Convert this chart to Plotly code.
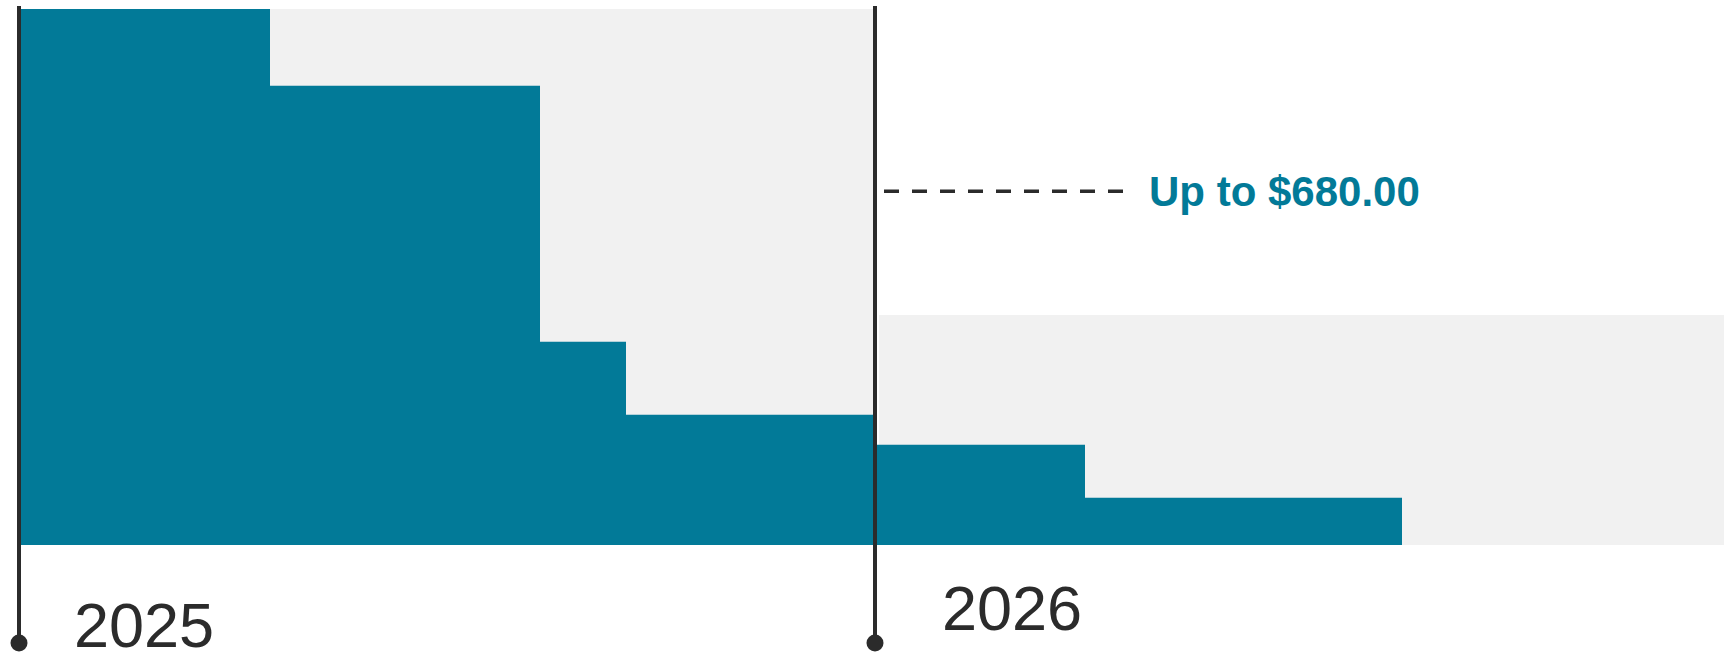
import plotly.graph_objects as go

# ---------------- data ----------------
years = ["2025", "2026"]
year_start = [0, 858]          # x units (timeline position)
year_end = [852, 1703]
year_cap = [100, 42.9]         # height of the light background block

seg_start = [0, 249, 519, 605, 856, 1064]
seg_end = [249, 519, 605, 852, 1064, 1381]
seg_value = [100, 85.7, 37.9, 24.3, 18.7, 8.8]

callout_value = 66.0
callout_label = "Up to $680.00"

# ---------------- style / layout constants ----------------
TEAL = "#027a98"
GRAY = "#f1f1f1"
INK = "#2b2b2b"
W, H = 1724, 654
PX_PER_UNIT = 536 / 100.0      # vertical scale
BASE_PX = 545                  # baseline pixel row
X_OFF = 21                     # pixel column of x = 0

def ypx(p):
    return (BASE_PX - p) / PX_PER_UNIT

x_range = [-X_OFF, W - X_OFF]
y_range = [ypx(H), ypx(0)]

fig = go.Figure()

# background blocks
fig.add_trace(go.Bar(
    x=[(s + e) / 2 for s, e in zip(year_start, year_end)],
    y=year_cap,
    width=[e - s for s, e in zip(year_start, year_end)],
    base=0,
    marker=dict(color=GRAY, line=dict(width=0)),
    hoverinfo="skip", showlegend=False,
))

# teal segments
fig.add_trace(go.Bar(
    x=[(s + e) / 2 for s, e in zip(seg_start, seg_end)],
    y=seg_value,
    width=[e - s for s, e in zip(seg_start, seg_end)],
    base=0,
    marker=dict(color=TEAL, line=dict(width=0)),
    hoverinfo="skip", showlegend=False,
))

# timeline lines with bottom dots
line_offset = [-2, -4]
label_dx = [51, 61]
label_dy = [-80, -62.5]
for i, yr in enumerate(years):
    xl = year_start[i] + line_offset[i]
    fig.add_trace(go.Scatter(
        x=[xl, xl], y=[ypx(6), ypx(643)],
        mode="lines", line=dict(color=INK, width=4),
        hoverinfo="skip", showlegend=False,
    ))
    fig.add_trace(go.Scatter(
        x=[xl], y=[ypx(643)],
        mode="markers", marker=dict(color=INK, size=17),
        hoverinfo="skip", showlegend=False,
    ))
    fig.add_annotation(
        x=year_start[i] + label_dx[i], y=label_dy[i] / PX_PER_UNIT,
        xref="x", yref="y", text=yr, showarrow=False,
        xanchor="left", yanchor="middle", height=56, valign="middle",
        font=dict(family="Liberation Sans, Arial, sans-serif", size=63, color=INK),
    )

# dashed callout line + label
fig.add_trace(go.Scatter(
    x=[year_start[1] + 5, year_start[1] + 245],
    y=[callout_value, callout_value],
    mode="lines", line=dict(color=INK, width=3.5, dash="15px,13px"),
    hoverinfo="skip", showlegend=False,
))
fig.add_annotation(
    x=year_start[1] + 268, y=callout_value, xref="x", yref="y",
    text="<b>" + callout_label + "</b>", showarrow=False,
    xanchor="left", yanchor="middle",
    font=dict(family="Liberation Sans, Arial, sans-serif", size=42, color=TEAL),
)

fig.update_layout(
    width=W, height=H,
    margin=dict(l=0, r=0, t=0, b=0),
    paper_bgcolor="white", plot_bgcolor="white",
    barmode="overlay",
    xaxis=dict(range=x_range, visible=False, fixedrange=True),
    yaxis=dict(range=y_range, visible=False, fixedrange=True),
)

fig.write_html(
    "out.html",
    config={"displayModeBar": False},
    post_script="document.body.style.margin='0';document.body.style.overflow='hidden';",
)
